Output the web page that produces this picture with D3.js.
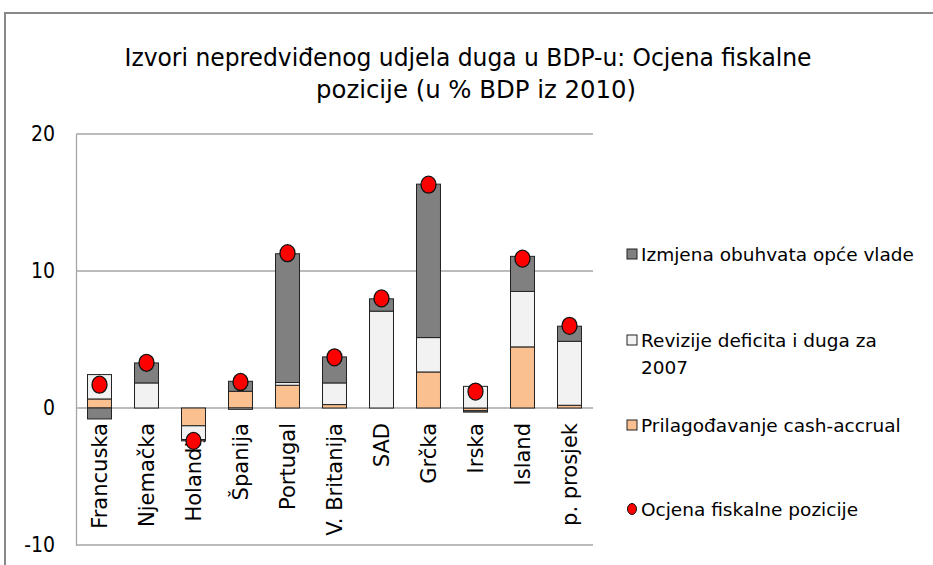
<!DOCTYPE html>
<html>
<head>
<meta charset="utf-8">
<script src="https://cdn.jsdelivr.net/npm/d3@7"></script>
<style>
  body { margin: 0; background: #fff; }
  text { font-family: "DejaVu Sans", Verdana, sans-serif; fill: #000; }
</style>
</head>
<body>
<div id="chart"></div>
<script>
// data (% of 2010 GDP)
var countries = ["Francuska", "Njemačka", "Holandija", "Španija", "Portugal", "V. Britanija", "SAD", "Grčka", "Irska", "Island", "p. prosjek"];
var cashAccrual = [0.66, 0, -1.3, 1.22, 1.66, 0.25, 0, 2.63, -0.2, 4.46, 0.2];
var revisions   = [1.78, 1.83, -1.0, -0.1, 0.2, 1.58, 7.07, 2.51, 1.58, 4.05, 4.67];
var coverage    = [-0.8, 1.46, -0.1, 0.73, 9.4, 1.9, 0.9, 11.2, -0.1, 2.56, 1.1];
var estimate    = [1.7, 3.3, -2.4, 1.9, 11.3, 3.7, 8.0, 16.3, 1.2, 10.9, 6.0];
var yTicks = [-10, 0, 10, 20];

var keys = ["cash", "rev", "cov"];
var legendNames = {
  cov: ["Izmjena obuhvata opće vlade"],
  rev: ["Revizije deficita i duga za", "2007"],
  cash: ["Prilagođavanje cash-accrual"]
};
var colors = { cash: "#fac090", rev: "#f2f2f2", cov: "#808080" };

var rows = countries.map(function(c, i) {
  return { name: c, cash: cashAccrual[i], rev: revisions[i], cov: coverage[i], est: estimate[i] };
});

var width = 933, height = 565;
var plot = { left: 76, right: 593, top: 134, bottom: 545 };

var svg = d3.select("#chart").append("svg")
    .attr("width", width)
    .attr("height", height);

// outer frame
svg.append("path")
    .attr("d", "M5," + height + "V13H" + width)
    .attr("fill", "none")
    .attr("stroke", "#888")
    .attr("stroke-width", 2);

// title
var title = svg.append("text")
    .attr("text-anchor", "middle")
    .style("font-family", "'DejaVu Sans Condensed', 'DejaVu Sans', sans-serif")
    .style("font-stretch", "condensed")
    .style("font-size", "25px");
title.append("tspan").attr("x", 468).attr("y", 66)
    .attr("textLength", 687).attr("lengthAdjust", "spacingAndGlyphs")
    .text("Izvori nepredviđenog udjela duga u BDP-u: Ocjena fiskalne");
title.append("tspan").attr("x", 476).attr("y", 98)
    .attr("textLength", 320).attr("lengthAdjust", "spacingAndGlyphs")
    .text("pozicije  (u % BDP iz 2010)");

var x = d3.scaleBand()
    .domain(countries)
    .range([plot.left, plot.right])
    .paddingInner(0.49)
    .paddingOuter(0.245);

var y = d3.scaleLinear()
    .domain([-10, 20])
    .range([plot.bottom, plot.top]);

// gridlines
svg.append("g")
    .selectAll("line")
    .data(yTicks)
    .enter().append("line")
    .attr("x1", plot.left)
    .attr("x2", plot.right)
    .attr("y1", function(d) { return y(d); })
    .attr("y2", function(d) { return y(d); })
    .attr("stroke", "#a6a6a6")
    .attr("stroke-width", 1.3);

// y axis
var yAxis = svg.append("g")
    .attr("transform", "translate(" + plot.left + ",0)")
    .call(d3.axisLeft(y).tickValues(yTicks).tickSize(0).tickPadding(21)
      .tickFormat(function(d) { return String(d); }));
yAxis.select(".domain").attr("stroke", "#a6a6a6").attr("stroke-width", 1.3);
yAxis.selectAll("text")
    .style("font-size", "21px")
    .style("font-family", "'DejaVu Sans', Verdana, sans-serif")
    .style("font-stretch", "condensed");

// category labels (drawn before bars, bars overlap them)
svg.append("g")
    .selectAll("text")
    .data(countries)
    .enter().append("text")
    .attr("transform", function(d) {
      return "translate(" + (x(d) + x.bandwidth() / 2 + 7.5) + ",423) rotate(-90)";
    })
    .attr("text-anchor", "end")
    .style("font-size", "21px")
    .text(function(d) { return d; });

// stacked bars
var series = d3.stack().keys(keys).offset(d3.stackOffsetDiverging)(rows);

svg.append("g")
    .selectAll("g")
    .data(series)
    .enter().append("g")
    .attr("fill", function(d) { return colors[d.key]; })
    .selectAll("rect")
    .data(function(d) { return d; })
    .enter().append("rect")
    .attr("x", function(d) { return x(d.data.name); })
    .attr("y", function(d) { return y(Math.max(d[0], d[1])); })
    .attr("width", x.bandwidth())
    .attr("height", function(d) { return Math.abs(y(d[0]) - y(d[1])); })
    .attr("stroke", "#222")
    .attr("stroke-width", 1);

// estimate markers
svg.append("g")
    .selectAll("ellipse")
    .data(rows)
    .enter().append("ellipse")
    .attr("cx", function(d) { return x(d.name) + x.bandwidth() / 2; })
    .attr("cy", function(d) { return y(d.est); })
    .attr("rx", 7.5)
    .attr("ry", 8.5)
    .attr("fill", "#ff0000")
    .attr("stroke", "#111")
    .attr("stroke-width", 1.3);

// legend
var legendItems = [
  { key: "cov", y: 254 },
  { key: "rev", y: 340 },
  { key: "cash", y: 425 }
];
var lg = svg.append("g")
    .selectAll("g")
    .data(legendItems)
    .enter().append("g")
    .attr("transform", function(d) { return "translate(627," + d.y + ")"; });

lg.append("rect")
    .attr("x", 0)
    .attr("y", -5)
    .attr("width", 10)
    .attr("height", 10)
    .attr("fill", function(d) { return colors[d.key]; })
    .attr("stroke", "#222");

lg.append("text")
    .style("font-size", "18.5px")
    .selectAll("tspan")
    .data(function(d) { return legendNames[d.key]; })
    .enter().append("tspan")
    .attr("x", 14)
    .attr("y", function(d, i) { return 7 + i * 27; })
    .text(function(d) { return d; });

var lp = svg.append("g").attr("transform", "translate(627,509)");
lp.append("ellipse")
    .attr("cx", 5)
    .attr("rx", 4.5)
    .attr("ry", 5.5)
    .attr("fill", "#ff0000")
    .attr("stroke", "#111");
lp.append("text")
    .attr("x", 14)
    .attr("y", 7)
    .style("font-size", "18.5px")
    .text("Ocjena fiskalne pozicije");
</script>
</body>
</html>
